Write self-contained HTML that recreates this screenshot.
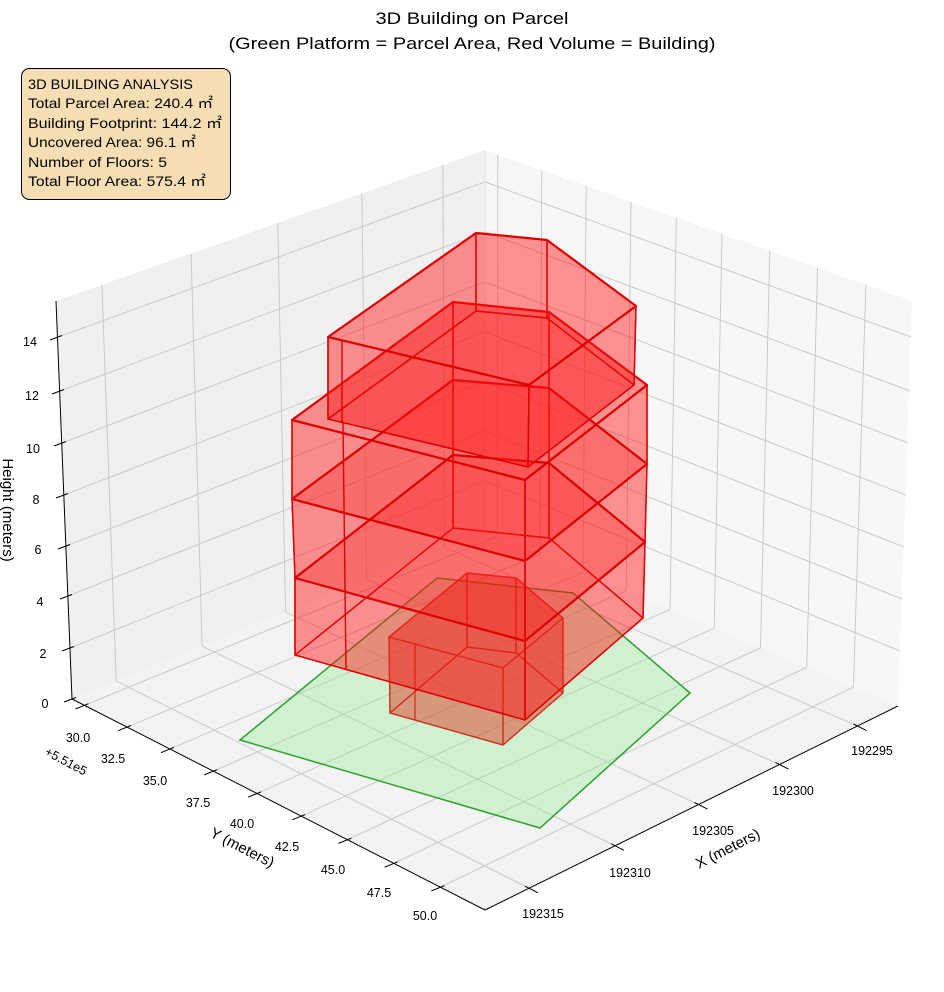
<!DOCTYPE html>
<html><head><meta charset="utf-8"><style>
html,body{margin:0;padding:0;background:#fff;}
svg{display:block;font-family:"Liberation Sans","Noto Sans CJK JP",sans-serif;}
</style></head><body>
<svg width="944" height="992" viewBox="0 0 944 992" xmlns="http://www.w3.org/2000/svg">
<rect width="944" height="992" fill="#fff"/>
<polygon points="56,301 485,150 485,531 72,699" fill="#f0f0f0"/>
<polygon points="485,150 912,301 898,706 485,531" fill="#f7f7f7"/>
<polygon points="72,699 485,531 898,706 485,910" fill="#f3f3f3"/>
<g stroke="#c6c6c6" stroke-width="0.9" fill="none">
<line x1="101.9" y1="284.8" x2="116.2" y2="681.0"/>
<line x1="191.1" y1="253.4" x2="202.1" y2="646.1"/>
<line x1="277.8" y1="222.9" x2="285.5" y2="612.1"/>
<line x1="361.9" y1="193.3" x2="366.5" y2="579.2"/>
<line x1="442.9" y1="164.8" x2="444.5" y2="547.5"/>
<line x1="497.8" y1="154.5" x2="497.4" y2="536.3"/>
<line x1="541.8" y1="170.1" x2="539.9" y2="554.3"/>
<line x1="586.2" y1="185.8" x2="582.9" y2="572.5"/>
<line x1="631.0" y1="201.6" x2="626.2" y2="590.9"/>
<line x1="676.3" y1="217.6" x2="670.0" y2="609.4"/>
<line x1="722.0" y1="233.8" x2="714.2" y2="628.1"/>
<line x1="769.8" y1="250.7" x2="760.5" y2="647.8"/>
<line x1="817.6" y1="267.6" x2="806.7" y2="667.3"/>
<line x1="865.9" y1="284.7" x2="853.4" y2="687.1"/>
<polyline points="70,648 485,481 900,651"/>
<polyline points="68,596 485,431 902,599"/>
<polyline points="66,546 485,382 904,547"/>
<polyline points="64,495 485,332 906,495"/>
<polyline points="62,443 485,282 908,443"/>
<polyline points="60,391 485,232 910,391"/>
<polyline points="58,337 485,182 911,337"/>
<line x1="116.2" y1="681.0" x2="529.2" y2="888.2"/>
<line x1="202.1" y1="646.1" x2="615.1" y2="845.7"/>
<line x1="285.5" y1="612.1" x2="698.5" y2="804.5"/>
<line x1="366.5" y1="579.2" x2="779.5" y2="764.5"/>
<line x1="444.5" y1="547.5" x2="857.5" y2="726.0"/>
<line x1="497.4" y1="536.3" x2="84.4" y2="705.3"/>
<line x1="539.9" y1="554.3" x2="126.9" y2="727.1"/>
<line x1="582.9" y1="572.5" x2="169.9" y2="749.0"/>
<line x1="626.2" y1="590.9" x2="213.2" y2="771.2"/>
<line x1="670.0" y1="609.4" x2="257.0" y2="793.5"/>
<line x1="714.2" y1="628.1" x2="301.2" y2="816.1"/>
<line x1="760.5" y1="647.8" x2="347.4" y2="839.7"/>
<line x1="806.7" y1="667.3" x2="393.7" y2="863.4"/>
<line x1="853.4" y1="687.1" x2="440.4" y2="887.2"/>
</g>
<line x1="485" y1="150" x2="485" y2="531" stroke="#e4e4e4" stroke-width="1"/>
<g stroke="#000" stroke-width="1" fill="none">
<line x1="56" y1="301" x2="72" y2="699"/>
<line x1="72" y1="699" x2="485" y2="910"/>
<line x1="485" y1="910" x2="898" y2="706"/>
<line x1="64" y1="702" x2="76" y2="697.5"/>
<line x1="62" y1="651" x2="74" y2="646.5"/>
<line x1="60" y1="599" x2="72" y2="594.5"/>
<line x1="58" y1="549" x2="70" y2="544.5"/>
<line x1="56" y1="498" x2="68" y2="493.5"/>
<line x1="54" y1="446" x2="66" y2="441.5"/>
<line x1="52" y1="394" x2="64" y2="389.5"/>
<line x1="50" y1="340" x2="62" y2="335.5"/>
<line x1="75.4" y1="709" x2="88.4" y2="703.7"/>
<line x1="117.9" y1="730.8" x2="130.9" y2="725.5"/>
<line x1="160.9" y1="752.7" x2="173.9" y2="747.4"/>
<line x1="204.2" y1="774.9" x2="217.2" y2="769.6"/>
<line x1="248.0" y1="797.2" x2="261.0" y2="791.9"/>
<line x1="292.2" y1="819.8" x2="305.2" y2="814.5"/>
<line x1="338.4" y1="843.4" x2="351.4" y2="838.1"/>
<line x1="384.7" y1="867.1" x2="397.7" y2="861.8"/>
<line x1="431.4" y1="890.9" x2="444.4" y2="885.6"/>
<line x1="538" y1="892.8" x2="525" y2="886.2"/>
<line x1="624" y1="850.3" x2="611" y2="843.7"/>
<line x1="707.5" y1="809.1" x2="694.5" y2="802.5"/>
<line x1="788.5" y1="769.1" x2="775.5" y2="762.5"/>
<line x1="866.5" y1="730.6" x2="853.5" y2="724"/>
</g>
<polygon points="240,740 437,578 573,593 690,693 540,828" fill="rgba(144,238,144,0.35)" stroke="#2ca02c" stroke-width="1.5"/>
<!-- small box -->
<g fill="rgba(220,40,20,0.25)" stroke="#cc3322" stroke-width="1.3" stroke-linejoin="round">
<polygon points="390,713 467,647 516,653 563,693 503,745"/>
<polygon points="389,637 467,573 467,647 390,713"/>
<polygon points="467,573 516,578 516,653 467,647"/>
<polygon points="516,578 563,618 563,693 516,653"/>
<polygon points="563,618 503,668 503,745 563,693"/>
<polygon points="503,668 389,637 390,713 503,745"/>
<polygon points="389,637 467,573 516,578 563,618 503,668"/>
<line x1="415" y1="643" x2="415" y2="720"/>
</g>
<!-- big block -->
<g fill="rgba(255,20,20,0.26)" stroke="#dd0000" stroke-width="1.4" stroke-linejoin="round">
<polygon points="295,655 453,528 549,538 643,618 525,720"/>
<polygon points="295,578 453,455 453,528 295,655"/>
<polygon points="453,455 549,463 549,538 453,528"/>
<polygon points="549,463 645,542 643,618 549,538"/>
<polygon points="645,542 525,641 525,720 643,618"/>
<polygon points="525,641 295,578 295,655 525,720"/>
<polygon points="295,578 453,455 549,463 645,542 525,641"/>
<polygon points="292,499 453,380 453,455 295,578"/>
<polygon points="453,380 549,388 549,463 453,455"/>
<polygon points="549,388 647,464 645,542 549,463"/>
<polygon points="647,464 525,561 525,641 645,542"/>
<polygon points="525,561 292,499 295,578 525,641"/>
<polygon points="292,499 453,380 549,388 647,464 525,561"/>
<polygon points="292,420 453,302 453,380 292,499"/>
<polygon points="453,302 549,312 549,388 453,380"/>
<polygon points="549,312 647,385 647,464 549,388"/>
<polygon points="647,385 525,480 525,561 647,464"/>
<polygon points="525,480 292,420 292,499 525,561"/>
<polygon points="292,420 453,302 549,312 647,385 525,480"/>
<line x1="343" y1="423" x2="346" y2="669"/>
</g>
<g fill="none" stroke="#dd0000" stroke-width="2.2" stroke-linejoin="round">
<polygon points="292,420 453,302 549,312 647,385 525,480"/>
<polygon points="292,499 453,380 549,388 647,464 525,561"/>
<polygon points="295,578 453,455 549,463 645,542 525,641"/>
</g>
<!-- upper block -->
<g fill="rgba(255,20,20,0.26)" stroke="#dd0000" stroke-width="1.4" stroke-linejoin="round">
<polygon points="328,419 476,311 547,318 634,385 528,467"/>
<polygon points="328,337 476,233 476,311 328,419"/>
<polygon points="476,233 547,240 547,318 476,311"/>
<polygon points="547,240 636,306 634,385 547,318"/>
<polygon points="636,306 529,385 528,467 634,385"/>
<polygon points="529,385 328,337 328,419 528,467"/>
<polygon points="328,337 476,233 547,240 636,306 529,385"/>
<line x1="342" y1="340" x2="342" y2="423"/>
</g>
<polygon points="328,337 476,233 547,240 636,306 529,385" fill="none" stroke="#dd0000" stroke-width="2.2" stroke-linejoin="round"/>
<g font-size="12.5" fill="#000" text-anchor="middle">
<text x="30" y="346">14</text>
<text x="32" y="400">12</text>
<text x="33" y="453">10</text>
<text x="36" y="504">8</text>
<text x="38" y="554">6</text>
<text x="40" y="606">4</text>
<text x="43" y="658">2</text>
<text x="45" y="708">0</text>
<text x="78" y="742">30.0</text>
<text x="113" y="763">32.5</text>
<text x="155" y="785">35.0</text>
<text x="198" y="807">37.5</text>
<text x="242" y="828">40.0</text>
<text x="287" y="851">42.5</text>
<text x="333" y="874">45.0</text>
<text x="379" y="897">47.5</text>
<text x="425" y="920">50.0</text>
<text x="543" y="918">192315</text>
<text x="630" y="877">192310</text>
<text x="713" y="835">192305</text>
<text x="793" y="795">192300</text>
<text x="872" y="755">192295</text>
<text transform="translate(64,765) rotate(28)" x="0" y="0">+5.51e5</text>
</g>
<g font-size="15" fill="#000" text-anchor="middle">
<text transform="translate(240,852) rotate(27)">Y (meters)</text>
<text transform="translate(730,853) rotate(-27)">X (meters)</text>
<text transform="translate(3,510) rotate(90)">Height (meters)</text>
</g>
<g font-size="17" fill="#000" text-anchor="middle">
<text x="472" y="24" textLength="193" lengthAdjust="spacingAndGlyphs">3D Building on Parcel</text>
<text x="472" y="49" textLength="487" lengthAdjust="spacingAndGlyphs">(Green Platform = Parcel Area, Red Volume = Building)</text>
</g>
<rect x="21.5" y="68.5" width="209" height="131" rx="8" ry="8" fill="#f5deb3" stroke="#000" stroke-width="1"/>
<g font-size="14" fill="#000">
<text x="28" y="89" textLength="165" lengthAdjust="spacingAndGlyphs">3D BUILDING ANALYSIS</text>
<text x="28" y="108" textLength="185" lengthAdjust="spacingAndGlyphs">Total Parcel Area: 240.4 ㎡</text>
<text x="28" y="128" textLength="194" lengthAdjust="spacingAndGlyphs">Building Footprint: 144.2 ㎡</text>
<text x="28" y="147" textLength="168" lengthAdjust="spacingAndGlyphs">Uncovered Area: 96.1 ㎡</text>
<text x="28" y="167" textLength="139" lengthAdjust="spacingAndGlyphs">Number of Floors: 5</text>
<text x="28" y="186" textLength="178" lengthAdjust="spacingAndGlyphs">Total Floor Area: 575.4 ㎡</text>
</g>
</svg>
</body></html>
